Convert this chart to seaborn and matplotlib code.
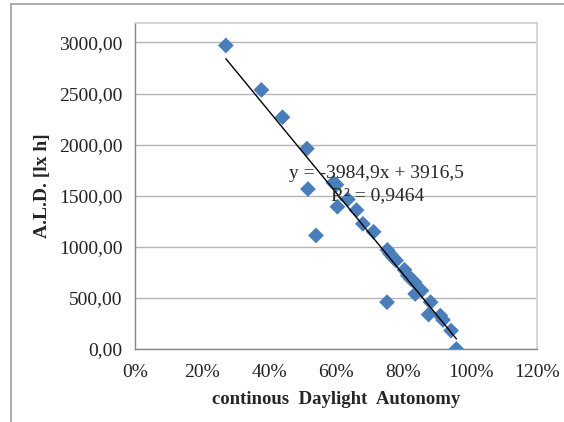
import numpy as np
import pandas as pd
import seaborn as sns
import matplotlib.pyplot as plt
from matplotlib.ticker import FuncFormatter, PercentFormatter, MultipleLocator
from matplotlib.lines import Line2D

# data
cda = [0.270, 0.376, 0.439, 0.512, 0.515, 0.539, 0.591, 0.600, 0.603, 0.634,
       0.660, 0.679, 0.711, 0.752, 0.760, 0.769, 0.778, 0.751, 0.803, 0.813,
       0.822, 0.833, 0.835, 0.854, 0.881, 0.875, 0.910, 0.918, 0.942, 0.958]
ald = [2970, 2535, 2268, 1961, 1565, 1111, 1627, 1608, 1392, 1464,
       1359, 1225, 1147, 970, 931, 898, 866, 458, 775, 719,
       686, 654, 539, 572, 458, 337, 327, 284, 180, 0]

# trend line from the chart
slope = -3984.9
intercept = 3916.5
r2 = 0.9464

df = pd.DataFrame({'cDA': cda, 'ALD': ald})

sns.set_style('white')
plt.rcParams['font.family'] = ['Liberation Serif', 'DejaVu Serif']

fig = plt.figure(figsize=(5.64, 4.22), dpi=100)
ax = fig.add_axes([0.240, 0.173, 0.713, 0.773])

ax.yaxis.grid(True, color='#b4b4b4', linewidth=1.0)
ax.set_axisbelow(True)

sns.scatterplot(data=df, x='cDA', y='ALD', marker='D', s=65, color='#4a7ebb',
                edgecolor='none', ax=ax, zorder=3)

# trend line over the data range
xs = np.array([min(cda), max(cda)])
ax.plot(xs, slope * xs + intercept, color='black', linewidth=1.0, zorder=4)

ax.text(0.458, 1722, 'y = -3984,9x + 3916,5', fontsize=14, va='center', ha='left', zorder=5)
ax.text(0.722, 1497, f'R² = {r2:.4f}'.replace('.', ','), fontsize=14, va='center',
        ha='center', zorder=5)

ax.set_xlim(0, 1.2)
ax.set_ylim(0, 3192)
ax.xaxis.set_major_locator(MultipleLocator(0.2))
ax.set_yticks(np.arange(0, 3001, 500))
ax.xaxis.set_major_formatter(PercentFormatter(1.0, decimals=0))
ax.yaxis.set_major_formatter(FuncFormatter(lambda v, p: f'{v:.2f}'.replace('.', ',')))

ax.tick_params(axis='both', labelsize=14, colors='#868686', labelcolor='#222222',
               direction='out', length=5, width=1, pad=4)
ax.tick_params(axis='x', pad=6)

for side in ['left', 'bottom']:
    ax.spines[side].set_color('#868686')
    ax.spines[side].set_linewidth(1.0)
for side in ['top', 'right']:
    ax.spines[side].set_visible(True)
    ax.spines[side].set_color('#d0d0d0')
    ax.spines[side].set_linewidth(1.2)

ax.set_xlabel('continous  Daylight  Autonomy', fontsize=13.5, fontweight='bold', labelpad=7)
ax.set_ylabel('A.L.D. [lx h]', fontsize=14, fontweight='bold', labelpad=6)

# outer chart frame (top and left edges)
fig.add_artist(Line2D([0.0195, 1.0], [0.9895, 0.9895], color='#a0a0a0', linewidth=1.2,
                      transform=fig.transFigure))
fig.add_artist(Line2D([0.0195, 0.0195], [0.0, 0.9895], color='#a0a0a0', linewidth=1.2,
                      transform=fig.transFigure))

fig.savefig('out.png', dpi=100)
